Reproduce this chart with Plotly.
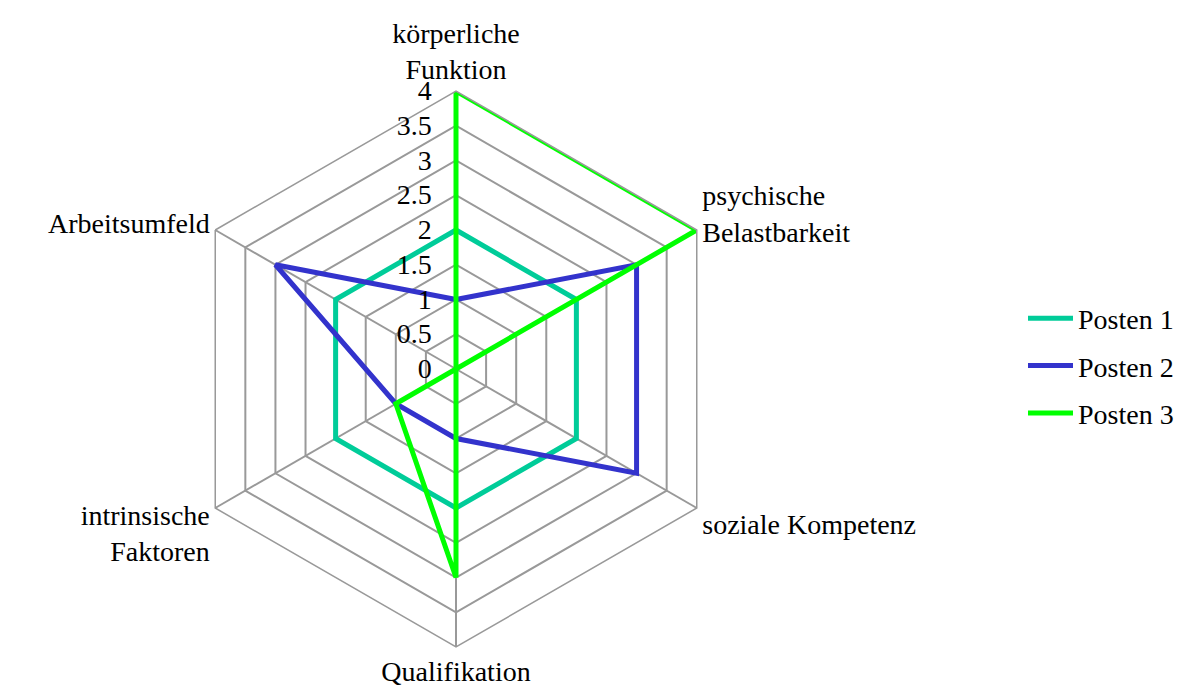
import plotly.graph_objects as go

categories = [
    "körperliche<br>Funktion",
    "psychische<br>Belastbarkeit",
    "soziale Kompetenz",
    "Qualifikation",
    "intrinsische<br>Faktoren",
    "Arbeitsumfeld",
]
posten_1 = [2, 2, 2, 2, 2, 2]
posten_2 = [1, 3, 3, 1, 1, 3]
posten_3 = [4, 4, 0, 3, 1, 0]
series_names = ["Posten 1", "Posten 2", "Posten 3"]
radial_ticks = [0, 0.5, 1, 1.5, 2, 2.5, 3, 3.5, 4]

COLORS = ["#00CC99", "#3333CC", "#00FF00"]

fig = go.Figure()
for i, (name, vals) in enumerate(zip(series_names, [posten_1, posten_2, posten_3])):
    fig.add_trace(
        go.Scatterpolar(
            r=vals + vals[:1],
            theta=categories + categories[:1],
            mode="lines",
            name=name,
            legendgroup=name,
            line=dict(color=COLORS[i], width=5),
        )
    )

W, H = 1187, 688
# target centre and radius in pixels (small offset corrects plotly's placement)
cx, cy, rad = 448, 361, 278

fig.update_layout(
    width=W,
    height=H,
    paper_bgcolor="white",
    plot_bgcolor="white",
    font=dict(family="Liberation Serif", size=28, color="black"),
    margin=dict(l=0, r=0, t=0, b=0),
    polar=dict(
        domain=dict(
            x=[(cx - rad) / W, (cx + rad) / W],
            y=[(H - cy - rad) / H, (H - cy + rad) / H],
        ),
        bgcolor="white",
        gridshape="linear",
        angularaxis=dict(
            direction="clockwise",
            rotation=90,
            gridcolor="#999999",
            gridwidth=1.5,
            linecolor="#999999",
            linewidth=1.5,
            showline=True,
            ticks="",
            tickfont=dict(size=28),
        ),
        radialaxis=dict(
            range=[0, 4],
            tickvals=radial_ticks,
            ticktext=[str(t) for t in radial_ticks],
            angle=90,
            side="counterclockwise",
            showline=False,
            gridcolor="#999999",
            gridwidth=1.5,
            ticks="outside",
            ticklen=14,
            tickcolor="rgba(0,0,0,0)",
            tickfont=dict(size=28),
            tickangle=90,
        ),
    ),
    legend=dict(
        x=1015 / W,
        y=1 - 358 / H,
        xanchor="left",
        yanchor="middle",
        tracegroupgap=8,
        itemwidth=45,
        font=dict(size=28),
        bgcolor="rgba(0,0,0,0)",
    ),
)

fig.write_html("out.html")
